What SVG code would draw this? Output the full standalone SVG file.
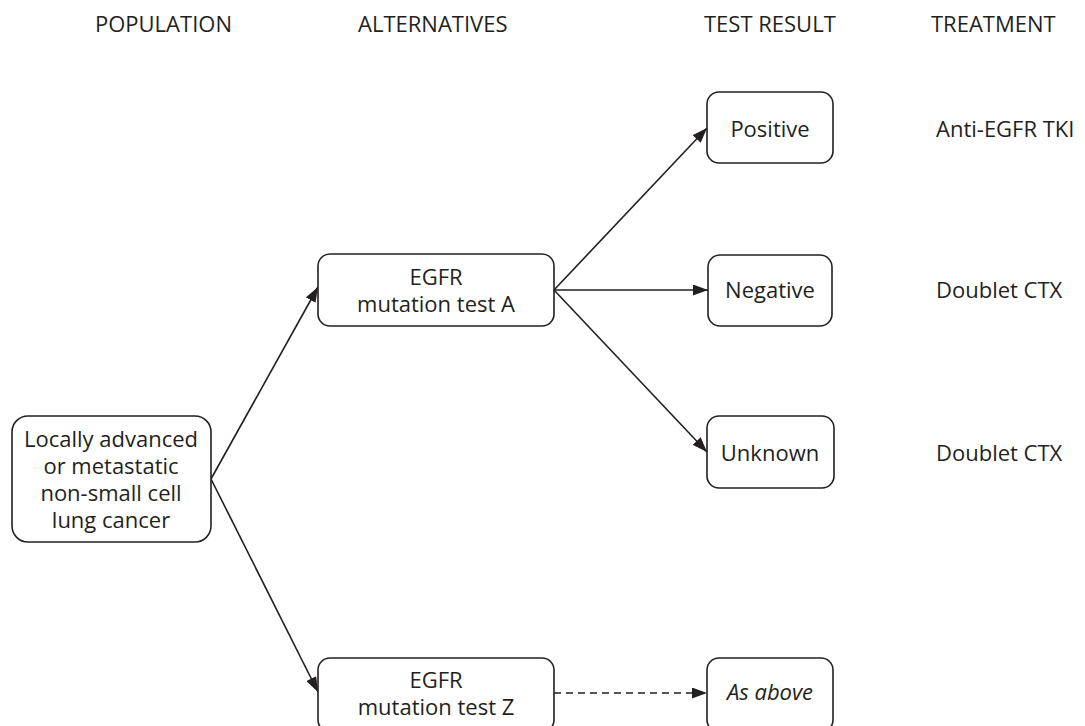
<svg xmlns="http://www.w3.org/2000/svg" width="1085" height="726" viewBox="0 0 1085 726">
<style>
.box{fill:#fff;stroke:#231f20;stroke-width:1.6}
.t{font-family:"Open Sans","Noto Sans",sans-serif;font-size:22px;fill:#231f20;text-anchor:middle}
.tl{font-family:"Open Sans","Noto Sans",sans-serif;font-size:22px;fill:#231f20}
.c{fill:none;stroke:#231f20;stroke-width:1.6}
</style>
<defs>
<marker id="ah" markerWidth="15" markerHeight="11" refX="15" refY="5.5" orient="auto" markerUnits="userSpaceOnUse">
<path d="M0,0 L15,5.5 L0,11 Z" fill="#231f20"/>
</marker>
</defs>
<rect width="1085" height="726" fill="#fff"/>
<g id="headers">
<text class="tl" x="95" y="32">POPULATION</text>
<text class="tl" x="358" y="32">ALTERNATIVES</text>
<text class="tl" x="704" y="32">TEST RESULT</text>
<text class="tl" x="931" y="32">TREATMENT</text>
</g>
<g id="connectors">
<line class="c" x1="211" y1="479" x2="318" y2="287" marker-end="url(#ah)"/>
<line class="c" x1="211" y1="479" x2="318" y2="692" marker-end="url(#ah)"/>
<line class="c" x1="554" y1="290" x2="707" y2="128" marker-end="url(#ah)"/>
<line class="c" x1="554" y1="290" x2="708" y2="290" marker-end="url(#ah)"/>
<line class="c" x1="554" y1="290" x2="707" y2="452" marker-end="url(#ah)"/>
<line class="c" x1="554" y1="693" x2="707" y2="693" stroke-dasharray="7,5" marker-end="url(#ah)"/>
</g>
<g id="population">
<rect class="box" x="12" y="416" width="199" height="126" rx="16"/>
<text class="t" x="111" y="447">Locally advanced</text>
<text class="t" x="111" y="474">or metastatic</text>
<text class="t" x="111" y="501">non-small cell</text>
<text class="t" x="111" y="528">lung cancer</text>
</g>
<g id="testA">
<rect class="box" x="318" y="254" width="236" height="72" rx="12"/>
<text class="t" x="436" y="285">EGFR</text>
<text class="t" x="436" y="312">mutation test A</text>
</g>
<g id="testZ">
<rect class="box" x="318" y="658" width="236" height="74" rx="12"/>
<text class="t" x="436" y="688">EGFR</text>
<text class="t" x="436" y="715">mutation test Z</text>
</g>
<g id="positive">
<rect class="box" x="707" y="92" width="126" height="71" rx="12"/>
<text class="t" x="770" y="137">Positive</text>
</g>
<g id="negative">
<rect class="box" x="708" y="255" width="124" height="71" rx="12"/>
<text class="t" x="770" y="298">Negative</text>
</g>
<g id="unknown">
<rect class="box" x="707" y="416" width="127" height="72" rx="12"/>
<text class="t" x="770" y="461">Unknown</text>
</g>
<g id="asabove">
<rect class="box" x="707" y="658" width="126" height="74" rx="12"/>
<text class="t" x="770" y="700" font-style="italic">As above</text>
</g>
<g id="treatments">
<text class="tl" x="936" y="137">Anti-EGFR TKI</text>
<text class="tl" x="936" y="298">Doublet CTX</text>
<text class="tl" x="936" y="461">Doublet CTX</text>
</g>
</svg>
